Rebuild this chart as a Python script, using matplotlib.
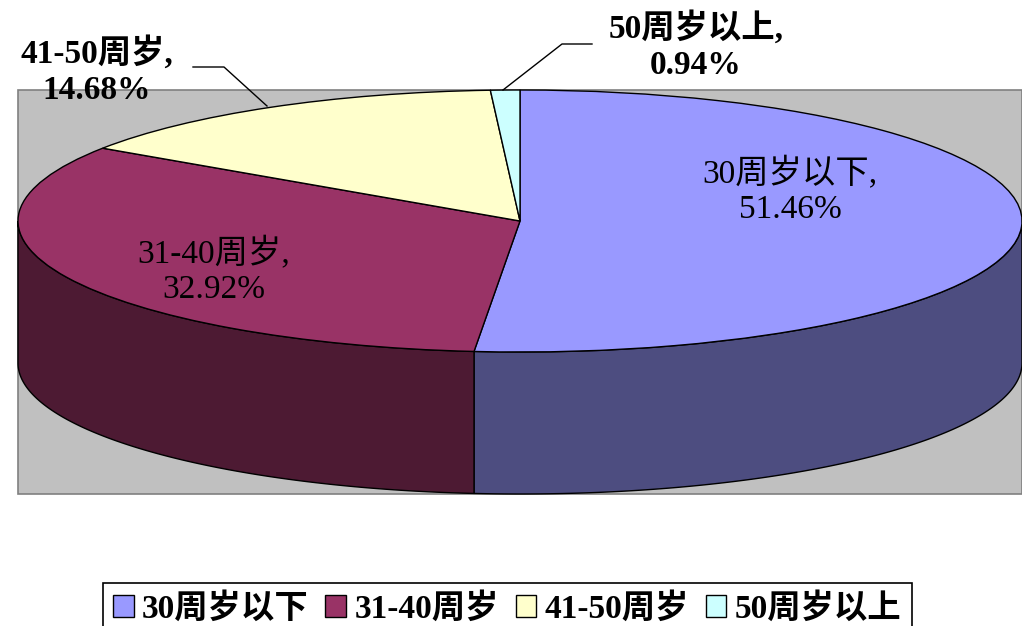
import numpy as np
import matplotlib
matplotlib.use("Agg")
import matplotlib.pyplot as plt
from matplotlib.patches import Patch, Rectangle

FONT = ['Liberation Serif', 'Noto Sans CJK SC']
plt.rcParams['font.family'] = FONT

categories = ['30周岁以下', '31-40周岁', '41-50周岁', '50周岁以上']
shares = [51.46, 32.92, 14.68, 0.94]
top_colors = ['#9999FF', '#993366', '#FFFFCC', '#CCFFFF']
side_colors = ['#4D4D80', '#4D1A33', '#80805F', '#668080']

W, H = 1022, 626
CX, CY, RX, RY, DEPTH = 520, 221, 502, 131, 142

fig = plt.figure(figsize=(W / 100, H / 100), dpi=100, facecolor='white')

# pixel-space layer: plot-area background
back = fig.add_axes([0, 0, 1, 1], zorder=1)
back.set_xlim(0, W)
back.set_ylim(H, 0)
back.axis('off')
back.add_patch(Rectangle((18, 90), 1004, 404, facecolor='#C0C0C0',
                         edgecolor='#808080', linewidth=1.2))

# pie layer: unit circle stretched into an ellipse by the axes limits
ax = fig.add_axes([0, 0, 1, 1], zorder=2)
ax.patch.set_alpha(0)
depth = DEPTH / RY

# side wall, only the part of each slice on the front half of the rim
edges = 90 - np.cumsum([0] + shares) * 3.6
for i in range(len(shares)):
    a0, a1 = edges[i], edges[i + 1]
    lo, hi = a1 % 360, a0 % 360
    if hi <= lo:
        hi += 360
    lo2, hi2 = max(lo, 180), min(hi, 360)
    if hi2 > lo2:
        t = np.radians(np.linspace(lo2, hi2, 200))
        x = np.cos(t)
        y = np.sin(t)
        ax.fill(np.r_[x, x[::-1]], np.r_[y, y[::-1] - depth],
                facecolor=side_colors[i], edgecolor='black', linewidth=1.0)

ax.pie(shares, colors=top_colors, startangle=90, counterclock=False,
       radius=1, center=(0, 0), frame=True,
       wedgeprops=dict(edgecolor='black', linewidth=1.0))
ax.set_aspect('auto')
ax.set_xlim((0 - CX) / RX, (W - CX) / RX)
ax.set_ylim((CY - H) / RY, CY / RY)
ax.axis('off')

front = fig.add_axes([0, 0, 1, 1], zorder=3)
front.set_xlim(0, W)
front.set_ylim(H, 0)
front.axis('off')
front.patch.set_alpha(0)

# leader lines
front.plot([193, 224, 267], [67, 67, 106], color='black', lw=1.0)
front.plot([592, 562, 503], [44, 44, 90], color='black', lw=1.0)

def lab(i, x, y, weight):
    front.text(x, y, f'{categories[i]},\n{shares[i]:.2f}%', ha='center', va='center',
               fontsize=24, fontweight=weight, linespacing=1.2, color='black',
               family=FONT)

lab(0, 790, 191, 'normal')
lab(1, 214, 271, 'normal')
lab(2, 97, 71, 'bold')
lab(3, 696, 46, 'bold')

handles = [Patch(facecolor=c, edgecolor='black', linewidth=1.0) for c in top_colors]
leg = front.legend(handles, categories, ncol=4, loc='upper left',
                   bbox_to_anchor=(103 / W, 1 - 583 / H), borderaxespad=0,
                   frameon=True, fancybox=False, edgecolor='black', framealpha=1,
                   handlelength=0.62, handleheight=0.62, handletextpad=0.25,
                   columnspacing=0.5, borderpad=0.3,
                   prop=dict(family=FONT, weight='bold', size=24))
leg.get_frame().set_linewidth(1.2)

fig.savefig('out.png', dpi=100)
